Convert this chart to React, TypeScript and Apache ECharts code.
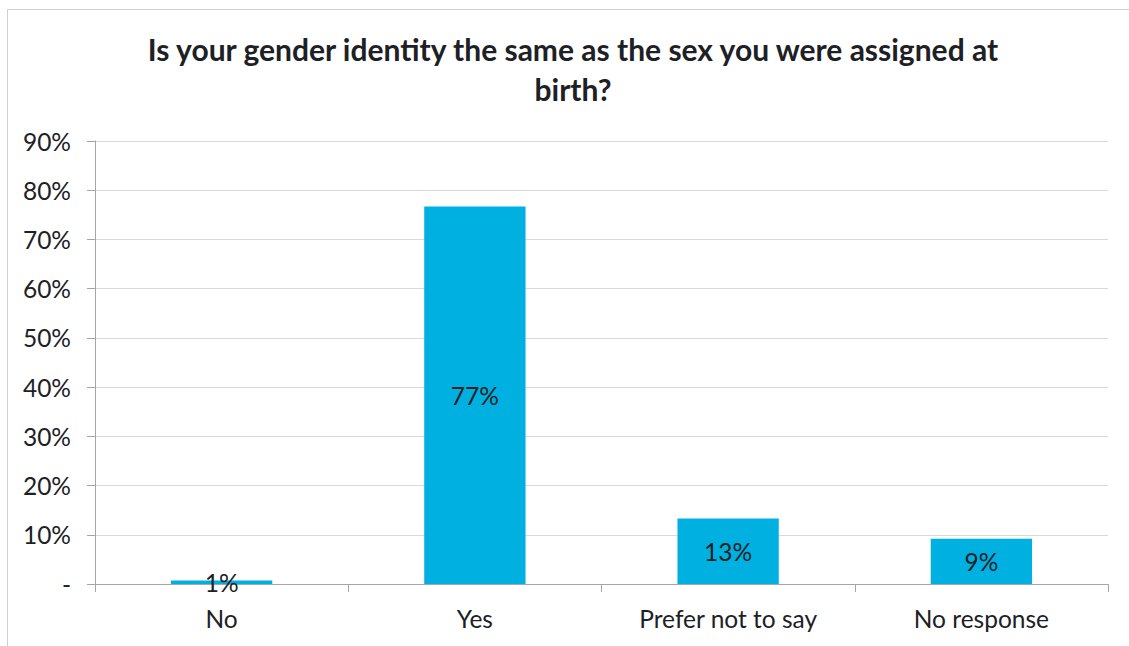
import React, { useEffect, useRef } from "react";
import * as echarts from "echarts";

const categories = ["No", "Yes", "Prefer not to say", "No response"];
const values = [0.7, 76.7, 13.3, 9.2];
const valueLabels = ["1%", "77%", "13%", "9%"];
const yTicks = [0, 10, 20, 30, 40, 50, 60, 70, 80, 90];
const titleLines = ["Is your gender identity the same as the sex you were assigned at", "birth?"];

const TEXT = "#1d2125";
const FONT = "Lato, 'Open Sans', sans-serif";

export default function App() {
  const ref = useRef<HTMLDivElement>(null);
  useEffect(() => {
    document.body.style.margin = "0";
    const chart = echarts.init(ref.current!, null, { renderer: "svg" });
    chart.setOption({
      animation: false,
      backgroundColor: "#ffffff",
      textStyle: { fontFamily: FONT },
      title: titleLines.map((t, i) => ({
        text: t,
        left: 573,
        textAlign: "center",
        top: 34 + i * 40,
        padding: 0,
        textStyle: {
          fontFamily: FONT,
          fontWeight: "bold",
          fontSize: 30,
          lineHeight: 30,
          color: TEXT,
        },
      })),
      graphic: [
        {
          type: "rect",
          shape: { x: 7.5, y: 9.5, width: 1300, height: 800 },
          style: { fill: "none", stroke: "#d0d0d0", lineWidth: 1 },
          silent: true,
        },
      ],
      grid: { left: 95, right: 21, top: 141, bottom: 62, containLabel: false },
      xAxis: {
        type: "category",
        data: categories,
        axisLine: { show: true, lineStyle: { color: "#a6a6a6", width: 1 } },
        axisTick: { show: true, alignWithLabel: false, length: 8, lineStyle: { color: "#a6a6a6" } },
        axisLabel: { color: TEXT, fontSize: 24.5, margin: 22, fontFamily: FONT },
      },
      yAxis: {
        type: "value",
        min: 0,
        max: yTicks[yTicks.length - 1],
        interval: 10,
        axisLine: { show: true, lineStyle: { color: "#a6a6a6", width: 1 } },
        axisTick: { show: true, length: 8, lineStyle: { color: "#a6a6a6" } },
        splitLine: { show: true, lineStyle: { color: "#d9d9d9", width: 1 } },
        axisLabel: {
          color: TEXT,
          fontSize: 24.5,
          margin: 24,
          fontFamily: FONT,
          formatter: (v: number) => (v === 0 ? "-" : `${v}%`),
        },
      },
      series: [
        {
          type: "bar",
          data: values,
          barWidth: "40%",
          itemStyle: { color: "#00b0e0" },
          label: {
            show: true,
            position: "inside",
            color: TEXT,
            fontSize: 24.5,
            fontFamily: FONT,
            formatter: (p: any) => valueLabels[p.dataIndex],
          },
        },
      ],
    });
    return () => chart.dispose();
  }, []);
  return <div ref={ref} style={{ width: 1129, height: 646 }} />;
}
